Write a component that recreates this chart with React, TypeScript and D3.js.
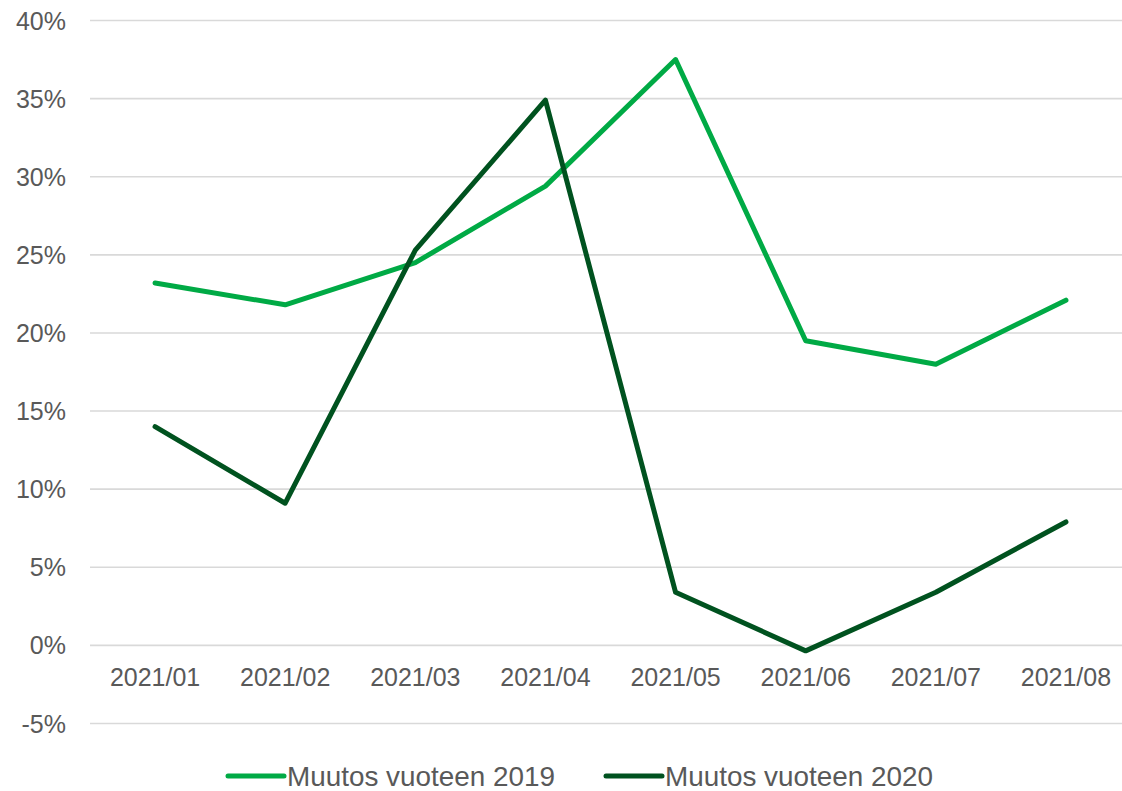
import React from "react";
import { scaleBand, scaleLinear, line } from "d3";

const width = 1122, height = 791

const months = ["2021/01", "2021/02", "2021/03", "2021/04", "2021/05", "2021/06", "2021/07", "2021/08"]
const change2019 = [23.2, 21.8, 24.5, 29.4, 37.5, 19.5, 18.0, 22.1]
const change2020 = [14.0, 9.1, 25.3, 34.9, 3.4, -0.35, 3.4, 7.9]
const yTicks = [-5, 0, 5, 10, 15, 20, 25, 30, 35, 40]
const seriesNames = ["Muutos vuoteen 2019", "Muutos vuoteen 2020"]
const colors = ["#00AA45", "#00521F"]

const App = () => {
  const xScale = scaleBand()
    .domain(months)
    .range([90, 1131])

  const yScale = scaleLinear()
    .domain([-5, 40])
    .range([723.5, 20.5])

  const path = line<number>()
    .x((d, i) => xScale(months[i])! + xScale.bandwidth() / 2)
    .y(d => yScale(d))

  const font = "'Liberation Sans', Arial, sans-serif"

  return <div style={{ position: "absolute", left: 0, top: 0 }}>
    <svg width={width} height={height} style={{ display: "block", background: "#fff" }}>
      {yTicks.map(t => <g key={t}>
        <line x1={90} x2={width} y1={yScale(t)} y2={yScale(t)} stroke="#D9D9D9" strokeWidth={1.6} />
        <text x={66} y={yScale(t) + 9} textAnchor="end" fontFamily={font} fontSize={25} fill="#595959">{t}%</text>
      </g>)}
      {months.map(m => <text key={m}
        x={xScale(m)! + xScale.bandwidth() / 2}
        y={686}
        textAnchor="middle" fontFamily={font} fontSize={25} fill="#595959">{m}</text>)}
      {[change2019, change2020].map((s, i) => <path key={i}
        d={path(s)!} fill="none" stroke={colors[i]} strokeWidth={5}
        strokeLinejoin="round" strokeLinecap="round" />)}
      {seriesNames.map((n, i) => {
        const x0 = i === 0 ? 228 : 606
        return <g key={n}>
          <line x1={x0} x2={x0 + 56} y1={776} y2={776} stroke={colors[i]} strokeWidth={5} strokeLinecap="round" />
          <text x={x0 + 59} y={786} fontFamily={font} fontSize={28} fill="#595959"
            textLength={268} lengthAdjust="spacingAndGlyphs">{n}</text>
        </g>
      })}
    </svg>
  </div>
}

export default App;
